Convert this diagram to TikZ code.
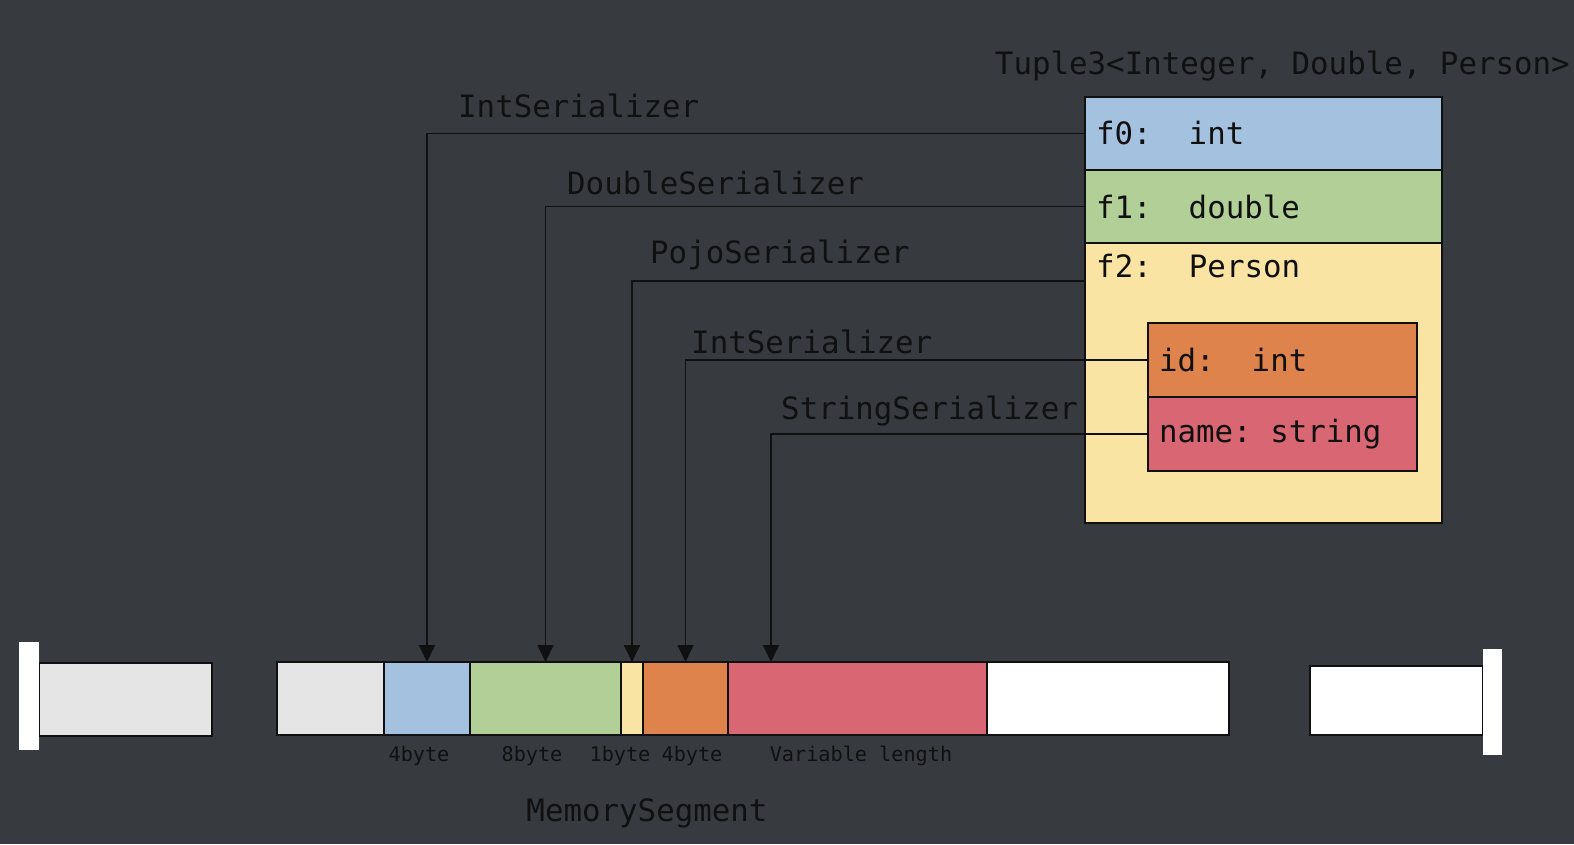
\documentclass[tikz,border=0pt]{standalone}
\usepackage{fontspec}
\setmonofont{DejaVu Sans Mono}
\usetikzlibrary{positioning,arrows.meta}

\definecolor{bgdark}{HTML}{373A3F}
\definecolor{inkdark}{HTML}{101010}
\definecolor{fieldblue}{HTML}{A4C2E0}
\definecolor{fieldgreen}{HTML}{B1CF96}
\definecolor{fieldyellow}{HTML}{FAE4A4}
\definecolor{fieldorange}{HTML}{DE834C}
\definecolor{fieldred}{HTML}{D86773}
\definecolor{cellgray}{HTML}{E5E5E5}

\newcommand{\bigmono}{\ttfamily\fontsize{30.8}{36}\selectfont}
\newcommand{\smallmono}{\ttfamily\fontsize{20.2}{24}\selectfont}
% one monospaced character wide
\newcommand{\gap}{\hspace*{0.602em}}

\tikzstyle{memcell} = [draw=inkdark,line width=1.5pt,rectangle,
  minimum height=73pt,inner sep=0pt,outer sep=0pt]
\tikzstyle{capbar} = [fill=white,rectangle,inner sep=0pt,outer sep=0pt]
\tikzstyle{fieldbox} = [draw=inkdark,line width=1.5pt,rectangle,
  inner xsep=11pt,inner ysep=0pt,outer sep=0pt,align=left,
  text=inkdark,font=\bigmono]
\tikzstyle{serlabel} = [inner sep=0pt,anchor=base west,text=inkdark,font=\bigmono]
\tikzstyle{sizelabel} = [inner sep=0pt,anchor=base,text=inkdark,font=\smallmono]
\tikzstyle{conn} = [draw=inkdark,line width=1.8pt,
  -{Triangle[width=16pt,length=17pt]}]

\begin{document}
\begin{tikzpicture}[x=1pt,y=-1pt]
    \fill[bgdark] (0,0) rectangle (1574,844);
    \useasboundingbox (0,0) rectangle (1574,844);

    % tuple and its fields
    \node [serlabel,anchor=base east] (title) at (1570,74)
      {Tuple3<Integer, Double, Person>};
    \node [fieldbox,fill=fieldblue,text width=335pt,minimum height=73pt,
      anchor=north west] (f0) at (1085,97) {f0:\gap\gap int};
    \node [fieldbox,fill=fieldgreen,text width=335pt,minimum height=73pt,
      below=0pt of f0] (f1) {f1:\gap\gap double};
    \node [fieldbox,fill=fieldyellow,text width=335pt,minimum height=280pt,
      below=0pt of f1] (f2) {};
    \node [serlabel] (f2text) at ([xshift=11pt,yshift=-34pt]f2.north west)
      {f2:\gap\gap Person};
    \node [fieldbox,fill=fieldorange,text width=247pt,minimum height=74pt,
      anchor=north west] (id) at (1148,323) {id:\gap\gap int};
    \node [fieldbox,fill=fieldred,text width=247pt,minimum height=74pt,
      below=0pt of id] (name) {name:\gap string};

    % memory segments
    \node [memcell,fill=cellgray,minimum width=173pt,anchor=north west] (lpiece) at (39,663) {};
    \node [capbar,minimum width=20pt,minimum height=108pt,anchor=north east] (lcap) at (39,642) {};
    \node [memcell,fill=cellgray,minimum width=107pt,anchor=north west] (gray) at (277,662) {};
    \node [memcell,fill=fieldblue,minimum width=86pt,right=0pt of gray] (blue) {};
    \node [memcell,fill=fieldgreen,minimum width=151pt,right=0pt of blue] (green) {};
    \node [memcell,fill=fieldyellow,minimum width=22pt,right=0pt of green] (yellow) {};
    \node [memcell,fill=fieldorange,minimum width=85pt,right=0pt of yellow] (orange) {};
    \node [memcell,fill=fieldred,minimum width=259pt,right=0pt of orange] (red) {};
    \node [memcell,fill=white,minimum width=242pt,right=0pt of red] (rest) {};
    \node [memcell,fill=white,minimum width=173pt,minimum height=69pt,
      anchor=north west] (rpiece) at (1310,666) {};
    \node [capbar,minimum width=19pt,minimum height=106pt,anchor=north west] (rcap) at (1483,649) {};

    % sizes
    \node [sizelabel] (s1) at (419,761) {4byte};
    \node [sizelabel] (s2) at (532,761) {8byte};
    \node [sizelabel] (s3) at (620,761) {1byte};
    \node [sizelabel] (s4) at (692,761) {4byte};
    \node [sizelabel] (s5) at (861,761) {Variable length};
    \node [serlabel,anchor=base] (segname) at (647,821) {MemorySegment};

    % serializers
    \node [serlabel] (ser1) at (458,117) {IntSerializer};
    \node [serlabel] (ser2) at (567,194) {DoubleSerializer};
    \node [serlabel] (ser3) at (650,263) {PojoSerializer};
    \node [serlabel] (ser4) at (691,353) {IntSerializer};
    \node [serlabel] (ser5) at (781,419) {StringSerializer};
    \draw [conn] (f0.west) -| (blue.north);
    \draw [conn] (f1.west) -| (green.north);
    \draw [conn] ([yshift=-38pt]f2.north west) -| (yellow.north);
    \draw [conn] (id.west) -| (orange.north);
    \draw [conn] (name.west) -| ([xshift=43pt]red.north west);
\end{tikzpicture}
\end{document}
